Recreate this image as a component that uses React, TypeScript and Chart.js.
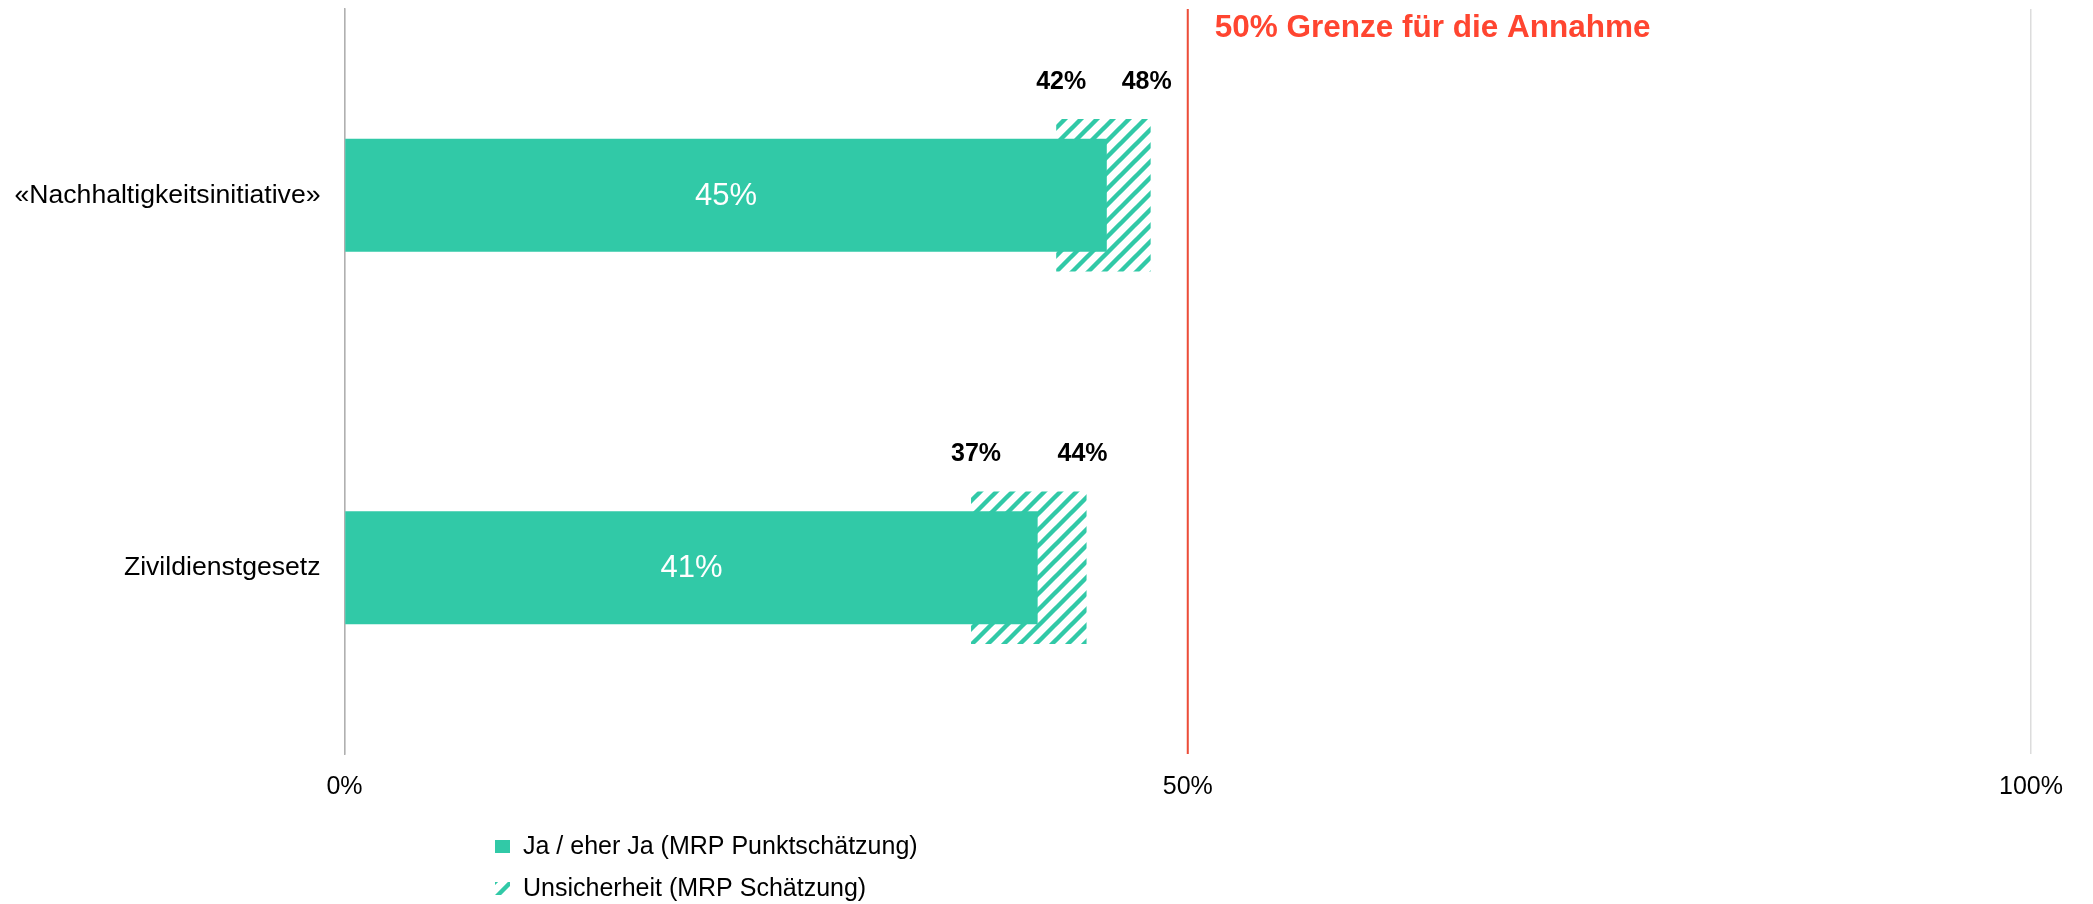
import React, { useEffect, useRef } from 'react';
import { Chart, registerables } from 'chart.js';

Chart.register(...registerables);

// ---- data ----
const categories = ['«Nachhaltigkeitsinitiative»', 'Zivildienstgesetz'];
const pointEstimates = [45.2, 41.1];
const uncertaintyLow = [42.2, 37.15];
const uncertaintyHigh = [47.8, 44.0];
const xTickValues = [0, 50, 100];
const thresholdValue = 50;
const thresholdLabel = '50% Grenze für die Annahme';
const seriesLabels = ['Ja / eher Ja (MRP Punktschätzung)', 'Unsicherheit (MRP Schätzung)'];

// ---- styles ----
const TEAL = '#31c9a7';
const RED_LINE = '#ee4d38';
const RED_TEXT = '#ff4530';
const FONT = "'Liberation Sans', Arial, Helvetica, sans-serif";

function makeHatch(): CanvasPattern | string {
  const c = document.createElement('canvas');
  const s = 16;
  c.width = s;
  c.height = s;
  const g = c.getContext('2d');
  if (!g) return TEAL;
  g.strokeStyle = TEAL;
  g.lineWidth = 4.4;
  g.beginPath();
  for (const k of [-1, 0, 1]) {
    g.moveTo(k * s - 2, s + 2);
    g.lineTo(k * s + s + 2, -2);
  }
  g.stroke();
  const p = g.createPattern(c, 'repeat');
  return p || TEAL;
}

const pct = (v: number) => Math.round(v) + '%';

const thresholdPlugin = {
  id: 'thresholdLine',
  afterDatasetsDraw(chart: any) {
    const { ctx, chartArea, scales } = chart;
    const x = scales.x.getPixelForValue(thresholdValue);
    ctx.save();
    ctx.strokeStyle = RED_LINE;
    ctx.lineWidth = 2;
    ctx.beginPath();
    ctx.moveTo(x, chartArea.top);
    ctx.lineTo(x, chartArea.bottom);
    ctx.stroke();
    ctx.fillStyle = RED_TEXT;
    ctx.font = `bold 31.5px ${FONT}`;
    ctx.textAlign = 'left';
    ctx.textBaseline = 'middle';
    ctx.fillText(thresholdLabel, x + 27, chartArea.top + 19);
    ctx.restore();
  },
};

const labelsPlugin = {
  id: 'barLabels',
  afterDatasetsDraw(chart: any) {
    const { ctx } = chart;
    ctx.save();
    ctx.textBaseline = 'middle';
    ctx.textAlign = 'center';
    // point estimates: white, centered inside bar
    const m0 = chart.getDatasetMeta(0);
    ctx.fillStyle = '#ffffff';
    ctx.font = `31px ${FONT}`;
    m0.data.forEach((el: any, i: number) => {
      const v = chart.data.datasets[0].data[i] as number;
      ctx.fillText(pct(v), (el.x + el.base) / 2, el.y + 1);
    });
    // uncertainty: bold black labels above both ends
    const m1 = chart.getDatasetMeta(1);
    ctx.fillStyle = '#000000';
    ctx.font = `bold 25px ${FONT}`;
    m1.data.forEach((el: any, i: number) => {
      const [lo, hi] = chart.data.datasets[1].data[i] as number[];
      const left = Math.min(el.x, el.base);
      const right = Math.max(el.x, el.base);
      const top = el.y - el.height / 2;
      ctx.fillText(pct(lo), left + 5, top - 37);
      ctx.fillText(pct(hi), right - 4, top - 37);
    });
    ctx.restore();
  },
};

const legendPlugin = {
  id: 'stackedLegend',
  afterDraw(chart: any) {
    const { ctx } = chart;
    const x0 = 495;
    const rows = [847, 889];
    ctx.save();
    ctx.font = `25px ${FONT}`;
    ctx.textAlign = 'left';
    ctx.textBaseline = 'middle';
    chart.data.datasets.forEach((ds: any, i: number) => {
      const cy = rows[i];
      ctx.save();
      ctx.translate(x0, cy - 7);
      ctx.fillStyle = ds.backgroundColor;
      ctx.fillRect(0, 0, 15, 13);
      ctx.restore();
      ctx.fillStyle = '#000000';
      ctx.fillText(ds.label, x0 + 28, cy);
    });
    ctx.restore();
  },
};

export default function App() {
  const ref = useRef<HTMLCanvasElement>(null);
  useEffect(() => {
    const canvas = ref.current;
    if (!canvas) return;
    const hatch = makeHatch();
    const chart = new Chart(canvas, {
      type: 'bar',
      data: {
        labels: categories,
        datasets: [
          {
            label: seriesLabels[0],
            data: pointEstimates,
            backgroundColor: TEAL,
            borderWidth: 0,
            grouped: false,
            barPercentage: 0.303,
            categoryPercentage: 1,
            order: 0,
          } as any,
          {
            label: seriesLabels[1],
            data: uncertaintyLow.map((lo, i) => [lo, uncertaintyHigh[i]]),
            backgroundColor: hatch,
            borderWidth: 0,
            grouped: false,
            barPercentage: 0.41,
            categoryPercentage: 1,
            order: 1,
          } as any,
        ],
      },
      options: {
        indexAxis: 'y',
        animation: false,
        responsive: true,
        maintainAspectRatio: false,
        layout: { padding: { top: 9, right: 62, bottom: 90, left: 0 } },
        plugins: { legend: { display: false }, tooltip: { enabled: false } },
        scales: {
          x: {
            min: 0,
            max: 100,
            afterBuildTicks: (s: any) => {
              s.ticks = xTickValues.map((v) => ({ value: v }));
            },
            ticks: {
              callback: (v: any) => v + '%',
              font: { size: 25, family: FONT },
              color: '#000000',
              padding: 18,
              maxRotation: 0,
            },
            grid: { color: '#dcdcdc', lineWidth: 1.5, drawTicks: false },
            border: { display: false },
            afterFit: (s: any) => {
              s.height = 60;
            },
          },
          y: {
            grid: { display: false, drawTicks: false },
            border: { display: true, color: '#b0b0b0', width: 1.5 },
            ticks: { font: { size: 26.6, family: FONT }, color: '#000000', padding: 24 },
            afterFit: (s: any) => {
              s.width = 344.5;
              s.paddingTop = 0;
              s.paddingBottom = 0;
            },
          },
        },
      } as any,
      plugins: [thresholdPlugin, labelsPlugin, legendPlugin],
    });
    return () => chart.destroy();
  }, []);
  return (
    <div style={{ position: 'fixed', left: 0, top: 0, width: 2093, height: 904, background: '#ffffff' }}>
      <canvas ref={ref} />
    </div>
  );
}
